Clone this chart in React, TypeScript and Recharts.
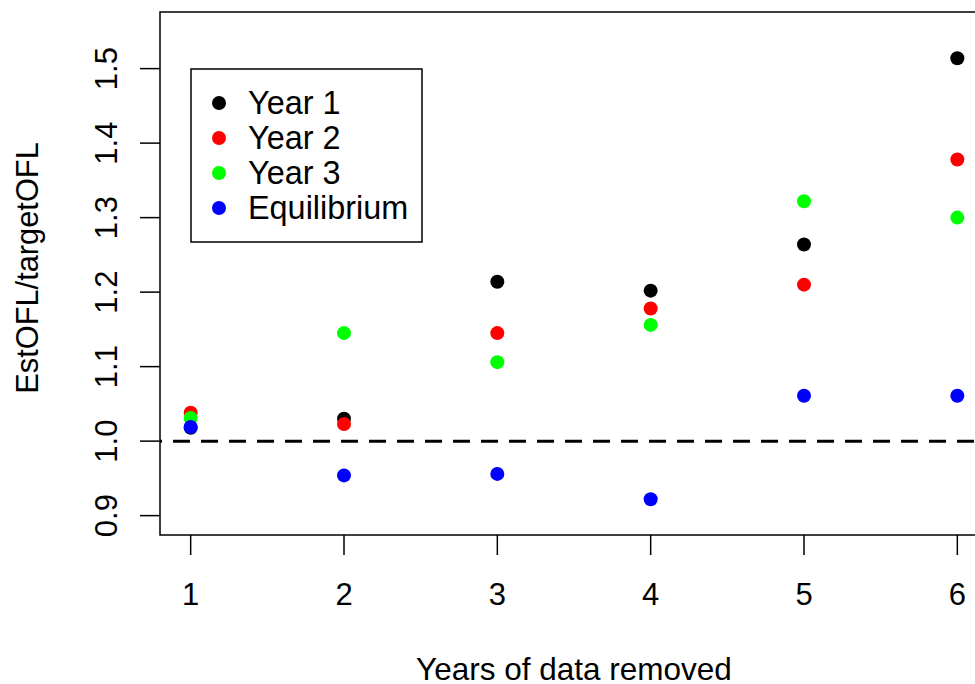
import React from "react";
import {
  ScatterChart,
  Scatter,
  XAxis,
  YAxis,
  ReferenceLine,
  ReferenceArea,
  Label,
} from "recharts";

// years of data removed
const yearsRemoved = [1, 2, 3, 4, 5, 6];

// EstOFL / targetOFL
const year1 = [1.018, 1.03, 1.214, 1.202, 1.264, 1.514];
const year2 = [1.038, 1.023, 1.145, 1.178, 1.21, 1.378];
const year3 = [1.031, 1.145, 1.106, 1.156, 1.322, 1.3];
const equilibrium = [1.019, 0.954, 0.956, 0.922, 1.061, 1.061];

const xTicks = [1, 2, 3, 4, 5, 6];
const yTicks = [0.9, 1.0, 1.1, 1.2, 1.3, 1.4, 1.5];

const series = [
  { name: "Year 1", values: year1, color: "#000000" },
  { name: "Year 2", values: year2, color: "#ff0000" },
  { name: "Year 3", values: year3, color: "#00ff00" },
  { name: "Equilibrium", values: equilibrium, color: "#0000ff" },
];

const FONT = "'Liberation Sans', Arial, sans-serif";

const XTick = (props: any) => {
  const { x, y, payload } = props;
  return (
    <text x={x} y={y + 50} textAnchor="middle" fontSize={31} fontFamily={FONT} fill="#000">
      {payload.value}
    </text>
  );
};

const YTick = (props: any) => {
  const { x, y, payload } = props;
  const bx = x - 23;
  return (
    <text
      x={bx}
      y={y}
      transform={`rotate(-90, ${bx}, ${y})`}
      textAnchor="middle"
      fontSize={31}
      fontFamily={FONT}
      fill="#000"
    >
      {Number(payload.value).toFixed(1)}
    </text>
  );
};

const dot = (color: string) => (props: any) =>
  <circle cx={props.cx} cy={props.cy} r={7} fill={color} />;

export default function App() {
  return (
    <div
      style={{
        position: "absolute",
        left: 0,
        top: 0,
        width: 975,
        height: 684,
        overflow: "hidden",
        background: "#fff",
      }}
    >
      <ScatterChart width={988} height={684} margin={{ top: 12, right: 0, bottom: 0, left: 0 }}>
        <XAxis
          type="number"
          dataKey="x"
          domain={[0.8, 6.2]}
          ticks={xTicks}
          allowDataOverflow
          axisLine={false}
          tickSize={20}
          tickMargin={0}
          tickLine={{ stroke: "#000", strokeWidth: 1.5 }}
          tick={<XTick />}
          height={149}
        >
          <Label
            content={(p: any) => (
              <text
                x={p.viewBox.x + p.viewBox.width / 2}
                y={p.viewBox.y + 145}
                textAnchor="middle"
                fontSize={31.5}
                fontFamily={FONT}
                fill="#000"
              >
                Years of data removed
              </text>
            )}
          />
        </XAxis>
        <YAxis
          type="number"
          dataKey="y"
          domain={[0.874, 1.576]}
          ticks={yTicks}
          allowDataOverflow
          axisLine={false}
          tickSize={20}
          tickMargin={0}
          tickLine={{ stroke: "#000", strokeWidth: 1.5 }}
          tick={<YTick />}
          width={160}
        >
          <Label
            content={() => {
              const cy = 268;
              return (
                <text
                  x={38}
                  y={cy}
                  transform={`rotate(-90, 38, ${cy})`}
                  textAnchor="middle"
                  fontSize={30.8}
                  fontFamily={FONT}
                  fill="#000"
                >
                  EstOFL/targetOFL
                </text>
              );
            }}
          />
        </YAxis>
        <ReferenceArea
          x1={0.8}
          x2={6.2}
          y1={0.874}
          y2={1.576}
          fill="none"
          fillOpacity={0}
          stroke="#000"
          strokeWidth={1.5}
          ifOverflow="visible"
        />
        <ReferenceLine
          y={1}
          stroke="#000"
          strokeWidth={3}
          strokeDasharray="17 11"
          strokeDashoffset={15}
        />
        {series.map((s) => (
          <Scatter
            key={s.name}
            name={s.name}
            data={yearsRemoved.map((x, i) => ({ x, y: s.values[i] }))}
            fill={s.color}
            shape={dot(s.color)}
            isAnimationActive={false}
          />
        ))}
      </ScatterChart>
      <svg
        width={233}
        height={175}
        style={{ position: "absolute", left: 190, top: 68 }}
      >
        <rect x={1} y={1} width={231} height={173} fill="#fff" stroke="#000" strokeWidth={1.5} />
        {series.map((s, i) => {
          const cy = 35 + i * 35;
          return (
            <g key={s.name}>
              <circle cx={29} cy={cy} r={7} fill={s.color} />
              <text x={58} y={cy + 11} fontSize={32.4} fontFamily={FONT} fill="#000">
                {s.name}
              </text>
            </g>
          );
        })}
      </svg>
    </div>
  );
}
